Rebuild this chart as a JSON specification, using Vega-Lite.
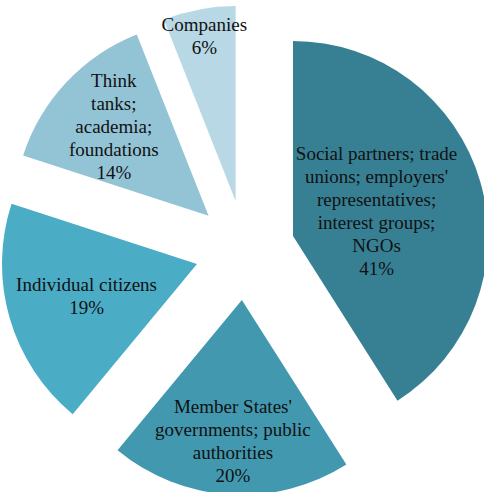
{
  "$schema": "https://vega.github.io/schema/vega-lite/v6.json",
  "width": 478,
  "height": 484,
  "padding": {"left": 6, "top": 8, "right": 0, "bottom": 0},
  "autosize": {"type": "none"},
  "background": "white",
  "config": {"view": {"stroke": null}},
  "data": {
    "values": [
      {"category": "Social partners; trade unions; employers' representatives; interest groups; NGOs", "label": ["Social partners; trade", "unions; employers'", "representatives;", "interest groups;", "NGOs", "41%"], "value": 41},
      {"category": "Member States' governments; public authorities", "label": ["Member States'", "governments; public", "authorities", "20%"], "value": 20},
      {"category": "Individual citizens", "label": ["Individual citizens", "19%"], "value": 19},
      {"category": "Think tanks; academia; foundations", "label": ["Think", "tanks;", "academia;", "foundations", "14%"], "value": 14},
      {"category": "Companies", "label": ["Companies", "6%"], "value": 6}
    ]
  },
  "transform": [{"window": [{"op": "row_number", "as": "rank"}]}],
  "encoding": {
    "theta": {"field": "value", "type": "quantitative", "stack": true},
    "order": {"field": "rank", "type": "quantitative", "sort": "ascending"},
    "x": {"value": {"expr": "width/2 + 50*sin(scale('theta', (datum.value_start + datum.value_end)/2))"}},
    "y": {"value": {"expr": "height/2 - 50*cos(scale('theta', (datum.value_start + datum.value_end)/2))"}}
  },
  "layer": [
    {
      "mark": {"type": "arc", "radius": 195},
      "encoding": {
        "color": {
          "field": "category",
          "type": "nominal",
          "legend": null,
          "scale": {
            "domain": ["Social partners; trade unions; employers' representatives; interest groups; NGOs", "Member States' governments; public authorities", "Individual citizens", "Think tanks; academia; foundations", "Companies"],
            "range": ["#378094", "#4298AF", "#4BACC6", "#92C4D6", "#B7D8E4"]
          }
        }
      }
    },
    {
      "mark": {"type": "text", "font": "Liberation Serif, Times New Roman, serif", "fontSize": 19, "lineHeight": 23, "align": "center", "baseline": "middle", "color": "#111111", "dy": {"expr": "-(length(datum.label) - 1) * 11.5"}},
      "encoding": {
        "radius": {"field": "value", "type": "quantitative", "scale": {"type": "linear", "zero": false, "domain": [6, 14, 19, 20, 41], "range": [167, 130, 115, 142, 87]}},
        "text": {"field": "label"}
      }
    }
  ]
}
